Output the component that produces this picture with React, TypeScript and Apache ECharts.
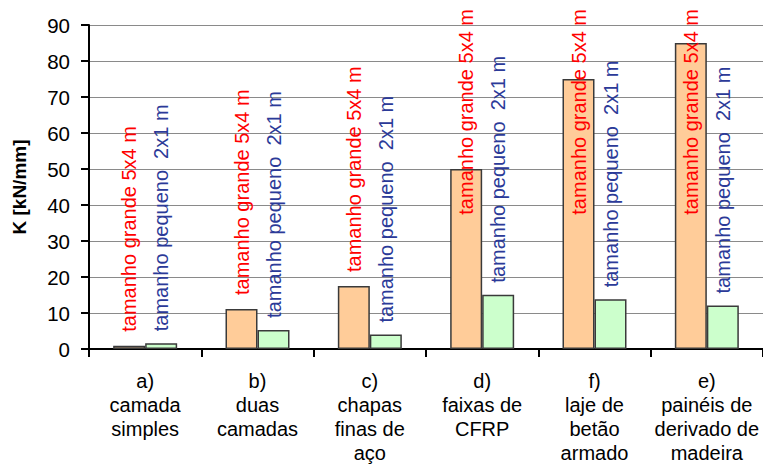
import React, { useEffect, useRef } from "react";
import * as echarts from "echarts";

// Stiffness K of each strengthening solution, for the two specimen sizes
const categories = [
  "a)\ncamada\nsimples",
  "b)\nduas\ncamadas",
  "c)\nchapas\nfinas de\naço",
  "d)\nfaixas de\nCFRP",
  "f)\nlaje de\nbetão\narmado",
  "e)\npainéis de\nderivado de\nmadeira",
];
const largeValues = [0.9, 11.1, 17.5, 50, 75, 85];
const smallValues = [1.6, 5.3, 4.0, 15.1, 13.8, 12.1];
const largeLabel = "tamanho grande 5x4 m";
const smallLabel = "tamanho pequeno \u00a02x1 m";
const yTicks = { min: 0, max: 90, interval: 10 };

const FONT = "'Liberation Sans', Arial, Helvetica, sans-serif";
const LABEL_TOP_LIMIT = 9;

// keep the rotated labels inside the chart: when one would run off the top,
// anchor its start lower so that its end sits just below the top edge
const keepInside = (params: any) => {
  const r = params.labelRect;
  if (r && r.y < LABEL_TOP_LIMIT) {
    return {
      x: r.x + r.width / 2,
      y: LABEL_TOP_LIMIT + r.height,
    };
  }
  return {};
};

export default function App() {
  const ref = useRef<HTMLDivElement>(null);

  useEffect(() => {
    if (!ref.current) return;
    const chart = echarts.init(ref.current, undefined, { renderer: "svg" });
    chart.setOption({
      animation: false,
      backgroundColor: "#ffffff",
      textStyle: { fontFamily: FONT },
      grid: { left: 89, right: -2, top: 25, bottom: 113, containLabel: false },
      xAxis: {
        type: "category",
        data: categories,
        axisLine: { show: true, lineStyle: { color: "#000", width: 2 } },
        axisTick: { show: true, inside: false, length: 8, lineStyle: { color: "#000", width: 2 } },
        axisLabel: {
          color: "#000",
          fontSize: 20,
          lineHeight: 24,
          margin: 20,
          fontFamily: FONT,
          interval: 0,
        },
        splitLine: { show: false },
      },
      yAxis: {
        type: "value",
        min: yTicks.min,
        max: yTicks.max,
        interval: yTicks.interval,
        name: "K [kN/mm]",
        nameLocation: "middle",
        nameGap: 60,
        nameTextStyle: { color: "#000", fontSize: 19, fontWeight: "bold", fontFamily: FONT },
        axisLine: { show: true, lineStyle: { color: "#000", width: 2 } },
        axisTick: { show: true, inside: false, length: 8, lineStyle: { color: "#000", width: 2 } },
        axisLabel: { color: "#000", fontSize: 20.5, margin: 19, fontFamily: FONT },
        splitLine: { show: true, lineStyle: { color: "#8a8a8a", width: 1.2 } },
      },
      series: [
        {
          type: "bar",
          data: largeValues,
          barWidth: 32,
          barGap: "0%",
          itemStyle: { color: "#FFCC99", borderColor: "#3a3a3a", borderWidth: 1.5 },
          label: {
            show: true,
            position: "top",
            rotate: 90,
            align: "left",
            verticalAlign: "middle",
            distance: 14,
            formatter: largeLabel,
            color: "#FF0000",
            fontSize: 20,
            fontFamily: FONT,
          },
          labelLayout: keepInside,
        },
        {
          type: "bar",
          data: smallValues,
          barWidth: 32,
          barGap: "0%",
          itemStyle: { color: "#CCFFCC", borderColor: "#3a3a3a", borderWidth: 1.5 },
          label: {
            show: true,
            position: "top",
            rotate: 90,
            align: "left",
            verticalAlign: "middle",
            distance: 12,
            formatter: smallLabel,
            color: "#2B3A98",
            fontSize: 20,
            fontFamily: FONT,
          },
          labelLayout: keepInside,
        },
      ],
    });
    return () => chart.dispose();
  }, []);

  return (
    <div
      ref={ref}
      style={{ position: "absolute", left: 0, top: 0, width: 763, height: 465, background: "#fff" }}
    />
  );
}
